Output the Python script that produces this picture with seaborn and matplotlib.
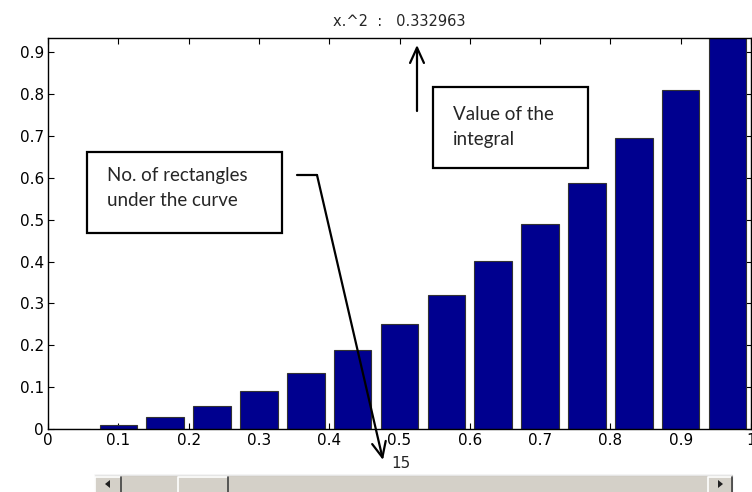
import matplotlib
matplotlib.use("Agg")
import matplotlib.pyplot as plt
from matplotlib.patches import Rectangle, Polygon
from matplotlib.lines import Line2D
import seaborn as sns
import pandas as pd

# midpoint rule for x.^2 on [0, 1] with 15 rectangles
n_rect = 15
integral = 0.332963
centers = [0.0333, 0.1, 0.1667, 0.2333, 0.3, 0.3667, 0.4333, 0.5,
           0.5667, 0.6333, 0.7, 0.7667, 0.8333, 0.9, 0.9667]
heights = [0.0011, 0.0100, 0.0278, 0.0544, 0.0900, 0.1344, 0.1878, 0.2500,
           0.3211, 0.4011, 0.4900, 0.5878, 0.6944, 0.8100, 0.9344]
xticks = [0, 0.1, 0.2, 0.3, 0.4, 0.5, 0.6, 0.7, 0.8, 0.9, 1]
xlabels = ["0", "0.1", "0.2", "0.3", "0.4", "0.5", "0.6", "0.7", "0.8", "0.9", "1"]
yticks = [0, 0.1, 0.2, 0.3, 0.4, 0.5, 0.6, 0.7, 0.8, 0.9]
ylabels = ["0", "0.1", "0.2", "0.3", "0.4", "0.5", "0.6", "0.7", "0.8", "0.9"]

df = pd.DataFrame({"x": centers, "y": heights})

sns.set_style("white")
plt.rcParams["font.family"] = ["DejaVu Sans"]

W, H = 752, 492
fig = plt.figure(figsize=(W / 100, H / 100), dpi=100)
ax = fig.add_axes([48 / W, (H - 429) / H, (751 - 48) / W, (429 - 38) / H])

sns.barplot(data=df, x="x", y="y", native_scale=True, width=0.8,
            color="#00008f", saturation=1, edgecolor="#333333",
            linewidth=0.8, ax=ax)

ax.set_xlim(0, 1)
ax.set_ylim(0, max(heights))
ax.set_xticks(xticks)
ax.set_xticklabels(xlabels, fontsize=11)
ax.set_yticks(yticks)
ax.set_yticklabels(ylabels, fontsize=11)
ax.set_xlabel("")
ax.set_ylabel("")
ax.tick_params(direction="in", length=4, width=0.8, top=True, right=True,
               bottom=True, left=True, colors="black", pad=3)
for s in ax.spines.values():
    s.set_visible(True)
    s.set_color("black")
    s.set_linewidth(1.0)

ax.set_title("x.^2  :   %.6f" % integral, fontsize=10.5, pad=9)


def fp(x, y):
    # figure pixels measured from the top-left corner
    return (x / W, 1 - y / H)


ft = fig.transFigure
box_font = ["Lato", "DejaVu Sans"]

# annotation boxes
fig.patches.append(Rectangle(fp(87, 233), (282 - 87) / W, (233 - 152) / H,
                             transform=ft, fill=False, ec="black", lw=1.6))
fig.text(*fp(107, 176), "No. of rectangles", fontsize=13.5, family=box_font,
         va="center", ha="left")
fig.text(*fp(107, 201), "under the curve", fontsize=13.5, family=box_font,
         va="center", ha="left")

fig.patches.append(Rectangle(fp(433, 168), (588 - 433) / W, (168 - 87) / H,
                             transform=ft, fill=False, ec="black", lw=1.6))
fig.text(*fp(453, 114), "Value of the", fontsize=13.5, family=box_font,
         va="center", ha="left")
fig.text(*fp(453, 139), "integral", fontsize=13.5, family=box_font,
         va="center", ha="left")

# arrows
fig.lines.append(Line2D([297 / W, 317 / W], [1 - 175 / H, 1 - 175 / H],
                        transform=ft, color="black", lw=1.6))
fig.add_artist(plt.Annotation("", xy=fp(383, 460), xytext=fp(317, 175),
                              xycoords=ft, textcoords=ft,
                              arrowprops=dict(arrowstyle="->,head_length=1.1,head_width=0.5",
                                              color="black", lw=1.6,
                                              shrinkA=0, shrinkB=0)))
fig.add_artist(plt.Annotation("", xy=fp(417, 45), xytext=fp(417, 111),
                              xycoords=ft, textcoords=ft,
                              arrowprops=dict(arrowstyle="->,head_length=1.1,head_width=0.5",
                                              color="black", lw=1.6,
                                              shrinkA=0, shrinkB=0)))

# slider value
fig.text(*fp(401, 463), str(n_rect), fontsize=11, ha="center", va="center")

# slider control
fig.patches.append(Rectangle(fp(95, 495), (732 - 95) / W, 20 / H, transform=ft,
                             fc="#d4d0c8", ec="#a0a0a0", lw=0.8))
fig.lines.append(Line2D([95 / W, 732 / W], [1 - 475 / H, 1 - 475 / H],
                        transform=ft, color="#f4f4f4", lw=1.2))
for x0, x1 in [(95, 121), (708, 732), (178, 228)]:
    fig.patches.append(Rectangle(fp(x0, 495), (x1 - x0) / W, 19 / H, transform=ft,
                                 fc="#d4d0c8", ec="none"))
    fig.lines.append(Line2D([x0 / W, x0 / W, x1 / W], [1 - 495 / H, 1 - 477 / H, 1 - 477 / H],
                            transform=ft, color="white", lw=1.2))
    fig.lines.append(Line2D([x1 / W, x1 / W], [1 - 477 / H, 1 - 495 / H],
                            transform=ft, color="#404040", lw=1.2))
fig.patches.append(Polygon([fp(105, 484), fp(110, 480), fp(110, 488)], closed=True,
                           transform=ft, fc="#202020", ec="none"))
fig.patches.append(Polygon([fp(723, 484), fp(718, 480), fp(718, 488)], closed=True,
                           transform=ft, fc="#202020", ec="none"))

fig.savefig("out.png", dpi=100)
